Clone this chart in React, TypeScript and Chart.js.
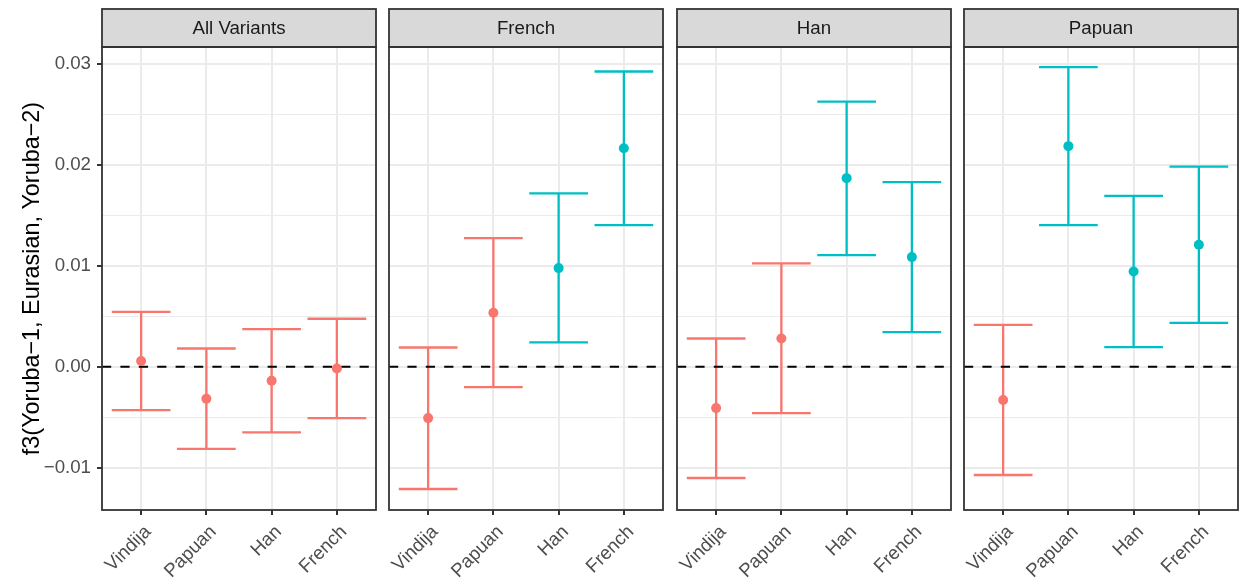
import React, { useEffect, useRef } from "react";
import { Chart, registerables } from "chart.js";

Chart.register(...registerables);

// ---- data -------------------------------------------------------------
const categories = ["Vindija", "Papuan", "Han", "French"];
const panelTitles = ["All Variants", "French", "Han", "Papuan"];

const allVariantsEst = [0.00057, -0.00317, -0.00139, -0.00017];
const allVariantsLow = [-0.0043, -0.00814, -0.0065, -0.0051];
const allVariantsHigh = [0.00545, 0.00181, 0.00374, 0.00476];

const frenchEst = [-0.00509, 0.00535, 0.00978, 0.02167];
const frenchLow = [-0.01212, -0.00202, 0.00241, 0.01404];
const frenchHigh = [0.00191, 0.01276, 0.01718, 0.02927];

const hanEst = [-0.0041, 0.0028, 0.0187, 0.01087];
const hanLow = [-0.01103, -0.00459, 0.01107, 0.00344];
const hanHigh = [0.0028, 0.01024, 0.02629, 0.0183];

const papuanEst = [-0.0033, 0.02187, 0.00945, 0.01209];
const papuanLow = [-0.01073, 0.01404, 0.00195, 0.00436];
const papuanHigh = [0.00416, 0.0297, 0.01695, 0.01985];

const yTickValues = [-0.01, -0.005, 0, 0.005, 0.01, 0.015, 0.02, 0.025, 0.03];
const yTickLabels = ["\u22120.01", "", "0.00", "", "0.01", "", "0.02", "", "0.03"];
const yTitle = "f3(Yoruba\u22121, Eurasian, Yoruba\u22122)";

// ---- look -------------------------------------------------------------
const W = 1239;
const H = 580;
const PANEL_TOP = 47;
const PANEL_BOTTOM = 510;
const STRIP_TOP = 9;
const PANEL_LEFTS = [102, 389, 677, 964];
const PANEL_WIDTH = 274;
const Y_MIN = -0.0142;
const Y_MAX = 0.0317;
const X_MIN = 0.4;
const X_MAX = 4.6;
const CAP_HALF = 0.45;

const RED = "#F8766D";
const CYAN = "#00BFC4";
const FONT = "'Liberation Sans', Arial, Helvetica, sans-serif";
const TEXT_SIZE = 18.7;

Chart.defaults.font.family = FONT;

type PanelSpec = {
  title: string;
  est: number[];
  low: number[];
  high: number[];
};

const panels: PanelSpec[] = [
  { title: panelTitles[0], est: allVariantsEst, low: allVariantsLow, high: allVariantsHigh },
  { title: panelTitles[1], est: frenchEst, low: frenchLow, high: frenchHigh },
  { title: panelTitles[2], est: hanEst, low: hanLow, high: hanHigh },
  { title: panelTitles[3], est: papuanEst, low: papuanLow, high: papuanHigh },
];

// intervals that sit entirely above zero are drawn in cyan
const colourFor = (low: number) => (low > 0 ? CYAN : RED);

function Panel({ spec, index }: { spec: PanelSpec; index: number }) {
  const ref = useRef<HTMLCanvasElement | null>(null);

  useEffect(() => {
    const canvas = ref.current;
    if (!canvas) return;
    const first = index === 0;
    const left = PANEL_LEFTS[index];
    const colours = spec.low.map(colourFor);

    const errorBars = {
      id: "errorBars",
      beforeDatasetsDraw(chart: any) {
        const xs = chart.scales.x;
        const ys = chart.scales.y;
        const ctx = chart.ctx;
        ctx.save();
        ctx.lineWidth = 2.3;
        ctx.lineCap = "butt";
        spec.est.forEach((_, i) => {
          const xc = xs.getPixelForValue(i + 1);
          const x0 = xs.getPixelForValue(i + 1 - CAP_HALF);
          const x1 = xs.getPixelForValue(i + 1 + CAP_HALF);
          const yl = ys.getPixelForValue(spec.low[i]);
          const yh = ys.getPixelForValue(spec.high[i]);
          ctx.strokeStyle = colours[i];
          ctx.beginPath();
          ctx.moveTo(x0, yh);
          ctx.lineTo(x1, yh);
          ctx.moveTo(xc, yh);
          ctx.lineTo(xc, yl);
          ctx.moveTo(x0, yl);
          ctx.lineTo(x1, yl);
          ctx.stroke();
        });
        ctx.restore();
      },
    };

    const panelFrame = {
      id: "panelFrame",
      afterDraw(chart: any) {
        const { left: l, top: t, right: r, bottom: b } = chart.chartArea;
        const ctx = chart.ctx;
        ctx.save();
        // strip
        ctx.fillStyle = "#D9D9D9";
        ctx.fillRect(l, STRIP_TOP, r - l, t - STRIP_TOP);
        ctx.strokeStyle = "#333333";
        ctx.lineWidth = 1.8;
        ctx.strokeRect(l, STRIP_TOP, r - l, t - STRIP_TOP);
        ctx.fillStyle = "#1A1A1A";
        ctx.font = `${TEXT_SIZE}px ${FONT}`;
        ctx.textAlign = "center";
        ctx.textBaseline = "middle";
        ctx.fillText(spec.title, (l + r) / 2, (STRIP_TOP + t) / 2 + 0.5);
        // panel border
        ctx.strokeRect(l, t, r - l, b - t);
        ctx.restore();
      },
    };

    const chart = new Chart(canvas, {
      type: "scatter",
      data: {
        datasets: [
          {
            label: "estimate",
            data: spec.est.map((y, i) => ({ x: i + 1, y })),
            pointBackgroundColor: colours,
            pointBorderColor: colours,
            pointBorderWidth: 0,
            pointRadius: 5,
            showLine: false,
            order: 1,
          },
          {
            label: "zero",
            data: [
              { x: X_MIN, y: 0 },
              { x: X_MAX, y: 0 },
            ],
            showLine: true,
            borderColor: "#000000",
            borderWidth: 2.2,
            borderDash: [9.2, 9.2],
            pointRadius: 0,
            order: 2,
          },
        ],
      },
      options: {
        responsive: false,
        animation: false,
        events: [],
        layout: {
          autoPadding: false,
          padding: {
            left: first ? 0 : left,
            right: W - left - PANEL_WIDTH,
            top: PANEL_TOP,
            bottom: 0,
          },
        },
        plugins: {
          legend: { display: false },
          tooltip: { enabled: false },
        },
        scales: {
          x: {
            type: "linear",
            min: X_MIN,
            max: X_MAX,
            afterBuildTicks: (s: any) => {
              s.ticks = categories.map((_, i) => ({ value: i + 1 }));
            },
            afterFit: (s: any) => {
              s.height = H - PANEL_BOTTOM;
            },
            border: { display: false },
            grid: {
              color: "#EBEBEB",
              lineWidth: 2,
              drawTicks: true,
              tickLength: 5,
              tickWidth: 2,
              tickColor: "#333333",
            },
            ticks: {
              autoSkip: false,
              minRotation: 45,
              maxRotation: 45,
              padding: 6,
              labelOffset: 7,
              color: "#4D4D4D",
              font: { size: TEXT_SIZE, family: FONT },
              callback: (v: any) => categories[Math.round(Number(v)) - 1],
            },
          },
          y: {
            type: "linear",
            min: Y_MIN,
            max: Y_MAX,
            afterBuildTicks: (s: any) => {
              s.ticks = yTickValues.map((v) => ({ value: v }));
            },
            afterFit: (s: any) => {
              s.width = first ? left : 0;
            },
            border: { display: false },
            grid: {
              color: "#EBEBEB",
              lineWidth: (c: any) => (c.index % 2 === 0 ? 2 : 1),
              drawTicks: first,
              tickLength: 5,
              tickWidth: 2,
              tickColor: (c: any) =>
                first && c.index % 2 === 0 ? "#333333" : "rgba(0,0,0,0)",
            },
            ticks: {
              display: first,
              padding: 6,
              color: "#4D4D4D",
              font: { size: TEXT_SIZE, family: FONT },
              callback: (_v: any, i: number) => yTickLabels[i],
            },
            title: {
              display: first,
              text: yTitle,
              color: "#000000",
              font: { size: 23.4, family: FONT },
              padding: { top: 19, bottom: 0 },
            },
          },
        },
      },
      plugins: [errorBars, panelFrame],
    } as any);

    return () => chart.destroy();
  }, [spec, index]);

  return (
    <canvas
      ref={ref}
      width={W}
      height={H}
      style={{ position: "absolute", left: 0, top: 0, width: W, height: H }}
    />
  );
}

export default function App() {
  return (
    <div
      style={{
        position: "absolute",
        left: 0,
        top: 0,
        width: W,
        height: H,
        background: "#FFFFFF",
        overflow: "hidden",
      }}
    >
      {panels.map((p, i) => (
        <Panel key={p.title} spec={p} index={i} />
      ))}
    </div>
  );
}
